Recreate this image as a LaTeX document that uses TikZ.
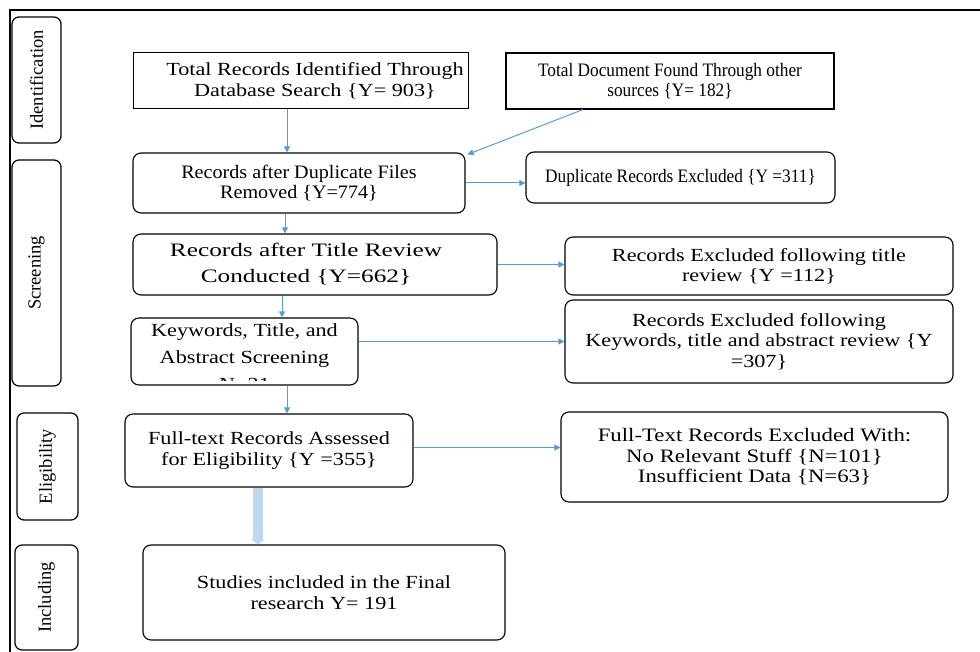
\documentclass[tikz,border=0pt]{standalone}
\usepackage{fontspec}
\setmainfont[FakeStretch=1.2]{Liberation Serif}
\newfontfamily\flatfont{Liberation Serif}
\newfontfamily\narrowfont[FakeStretch=0.91]{Liberation Serif}
\newfontfamily\midfont[FakeStretch=1.06]{Liberation Serif}
\newfontfamily\widefont[FakeStretch=1.33]{Liberation Serif}
\usetikzlibrary{arrows.meta,calc}
\definecolor{flowblue}{RGB}{91,155,213}
\definecolor{paleblue}{RGB}{189,215,238}
\tikzset{
	stage/.style={draw,line width=1.2pt,rounded corners=7pt,rotate=90,inner sep=0pt,font=\flatfont\fontsize{18.5}{20}\selectfont},
	stepbox/.style={draw,line width=1.1pt,align=center,inner sep=2pt,font=\fontsize{18.5}{20.5}\selectfont},
	roundbox/.style={stepbox,rounded corners=8pt},
	fsize/.style={font=\fontsize{#1}{20.5}\selectfont},
	flow/.style={->,>={Triangle[width=6pt,length=6pt]},color=flowblue,line width=1pt},
	bigflow/.style={-{Triangle[width=13pt,length=5pt]},color=paleblue,line width=10pt}
}

\begin{document}
\begin{tikzpicture}[x=1pt,y=-1pt]
\useasboundingbox (0,0) rectangle (980,652);
\draw[line width=1.2pt] (10,652) -- (10,10) -- (980,10);

%%%% stages
\node[stage,minimum width=126pt,minimum height=49pt] (ident) at (36.5,80) {Identification};
\node[stage,minimum width=226pt,minimum height=49pt] (screen) at (36.5,273) {Screening};
\node[stage,minimum width=107pt,minimum height=61pt] (elig) at (47.5,466.5) {Eligibility};
\node[stage,minimum width=105pt,minimum height=63pt] (incl) at (46.5,597.5) {Including};

%%%% identification
\node[stepbox,minimum width=335pt,minimum height=56pt,
	label={[xshift=14pt,align=center,font=\fontsize{18.5}{20.5}\selectfont]center:Total Records Identified Through\\Database Search \{Y= 903\}}]
	(dbsearch) at (301,80.5) {};
\node[stepbox,font=\narrowfont\fontsize{19}{20}\selectfont,minimum width=328pt,minimum height=56pt] (othersrc) at (670,81) {Total Document Found Through other\\sources \{Y= 182\}};

%%%% screening
\node[roundbox,font=\midfont\fontsize{19}{19.5}\selectfont,minimum width=332pt,minimum height=60pt] (dedup) at (299,183) {Records after Duplicate Files\\Removed \{Y=774\}};
\node[roundbox,font=\narrowfont\fontsize{19}{20}\selectfont,minimum width=309pt,minimum height=51pt] (dupex) at (680.5,177.5) {Duplicate Records Excluded \{Y =311\}};
\node[roundbox,minimum width=364pt,minimum height=61pt,
	label={[xshift=-9pt,align=center,font=\widefont\fontsize{19}{26}\selectfont]center:Records after Title Review\\Conducted \{Y=662\}}]
	(titlerev) at (315,264.5) {};
\node[roundbox,minimum width=388pt,minimum height=58pt] (titleex) at (759,266) {Records Excluded following title\\review \{Y =112\}};
\node[roundbox,minimum width=227pt,minimum height=67pt] (kwscreen) at (244.5,351.5) {};
\begin{scope}
	\clip ($(kwscreen.south west)+(0pt,5pt)$) rectangle (kwscreen.north east);
	\node[stepbox,draw=none,font=\fontsize{18.5}{27}\selectfont] at (244.5,357) {Keywords, Title, and\\Abstract Screening\\N=21};
\end{scope}
\node[roundbox,minimum width=388pt,minimum height=83pt] (kwex) at (759,341.5) {Records Excluded following\\Keywords, title and abstract review \{Y\\=307\}};

%%%% eligibility
\node[roundbox,minimum width=288pt,minimum height=73pt] (fulltext) at (269,450.5) {Full-text Records Assessed\\for Eligibility \{Y =355\}};
\node[roundbox,fsize=19,minimum width=387pt,minimum height=90pt] (ftex) at (754.5,457) {Full-Text Records Excluded With:\\No Relevant Stuff \{N=101\}\\Insufficient Data \{N=63\}};

%%%% including
\node[roundbox,minimum width=362pt,minimum height=95pt] (final) at (324,592.5) {Studies included in the Final\\research Y= 191};

%%%% arrows
\coordinate (colA) at (287,0);
\coordinate (colB) at (285,0);
\coordinate (colC) at (282,0);
\coordinate (colD) at (583,0);
\coordinate (colE) at (258,0);
\draw[flow] (dbsearch.south -| colA) -- (dedup.north -| colA);
\draw[flow] (othersrc.south -| colD) -- ([shift={(2pt,-2pt)}]dedup.north east);
\draw[flow] (dedup.south -| colB) -- (titlerev.north -| colB);
\draw[flow] (titlerev.south -| colC) -- (kwscreen.north -| colC);
\draw[flow] (kwscreen.south -| colA) -- (fulltext.north -| colA);

\draw[flow] (dedup.east) -- (dedup.east -| dupex.west);
\draw[flow] (titlerev.east) -- (titlerev.east -| titleex.west);
\draw[flow] (kwscreen.east |- kwex.west) -- (kwex.west);
\draw[flow] ([yshift=3pt]fulltext.east) -- ([yshift=3pt]fulltext.east -| ftex.west);

\draw[bigflow] (fulltext.south -| colE) -- (final.north -| colE);
\end{tikzpicture}
\end{document}
